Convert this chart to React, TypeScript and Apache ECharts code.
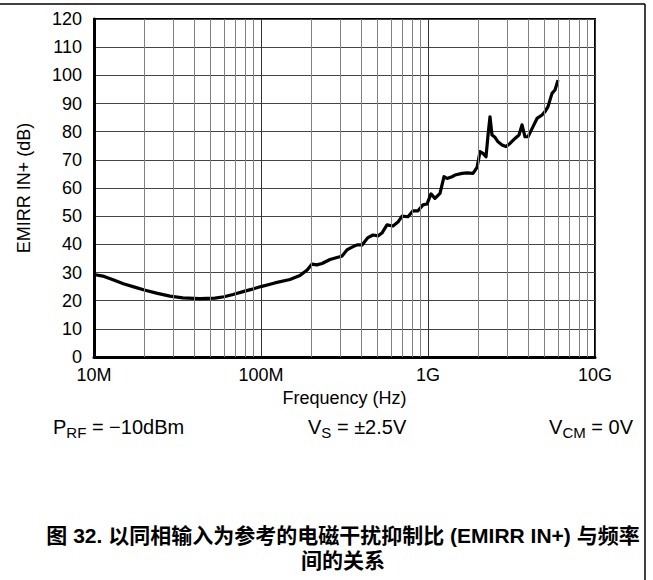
import React, { useEffect, useRef } from "react";
import * as echarts from "echarts";

const freqMHz = [10, 11.5, 13, 15, 17.5, 20, 24, 28.5, 34, 43, 53, 60, 68, 80, 90, 100, 121, 149, 171, 189, 202, 216, 232, 259, 285, 305, 327, 351, 376, 403, 437, 468, 502, 530, 568, 617, 661, 699, 759, 813, 871, 933, 986, 1042, 1101, 1180, 1247, 1300, 1392, 1451, 1598, 1712, 1860, 1966, 2049, 2135, 2225, 2288, 2351, 2416, 2519, 2626, 2775, 2932, 3097, 3319, 3506, 3655, 3809, 3970, 4255, 4496, 4816, 5019, 5231, 5527, 5761, 6003];
const emirrDb = [29.3, 28.6, 27.4, 26.0, 24.8, 23.8, 22.6, 21.6, 21.0, 20.7, 20.9, 21.4, 22.2, 23.4, 24.2, 25.0, 26.3, 27.5, 28.9, 30.9, 33.0, 32.7, 33.2, 34.6, 35.3, 35.8, 38.0, 39.0, 39.8, 39.8, 42.4, 43.3, 43.0, 44.0, 46.9, 46.5, 47.9, 50.0, 49.8, 51.9, 51.9, 54.0, 54.3, 57.9, 56.3, 58.1, 64.0, 63.4, 64.0, 64.6, 65.2, 65.4, 65.2, 67.3, 72.9, 72.3, 71.1, 78.8, 85.3, 78.8, 78.0, 76.4, 75.3, 74.7, 75.8, 77.6, 78.8, 82.4, 78.2, 78.2, 81.8, 84.7, 85.9, 87.1, 88.9, 93.6, 94.8, 98.3];

const decades = [1e7, 1e8, 1e9];
const minorMultipliers = [2, 3, 4, 5, 6, 7, 8, 9];
const xTickLabels: Record<string, string> = { "10000000": "10M", "100000000": "100M", "1000000000": "1G", "10000000000": "10G" };

const yAxisName = "EMIRR IN+ (dB)";
const xAxisName = "Frequency (Hz)";
const titleLine1 = "图 32. 以同相输入为参考的电磁干扰抑制比 (EMIRR IN+) 与频率";
const titleLine2 = "间的关系";

const FONT = "'Liberation Sans', Arial, sans-serif";

export default function App() {
  const ref = useRef<HTMLDivElement>(null);
  useEffect(() => {
    if (!ref.current) return;
    const chart = echarts.init(ref.current, undefined, { renderer: "svg" });
    const data = freqMHz.map((f, i) => [f * 1e6, emirrDb[i]]);
    const minor: number[] = [];
    decades.forEach((d) => minorMultipliers.forEach((m) => minor.push(d * m)));

    const rich = {
      a: { fontSize: 20, fontFamily: FONT, color: "#000", lineHeight: 24 },
      s: { fontSize: 15, fontFamily: FONT, color: "#000", lineHeight: 14, padding: [11, 0, 0, 0] },
    };

    chart.setOption({
      animation: false,
      backgroundColor: "#fff",
      grid: { left: 94, top: 19, right: 58, bottom: 223, show: true, borderColor: "#000", borderWidth: 2, containLabel: false },
      xAxis: {
        type: "log",
        logBase: 10,
        min: 1e7,
        max: 1e10,
        name: xAxisName,
        nameLocation: "middle",
        nameGap: 32,
        nameTextStyle: { fontSize: 18, fontFamily: FONT, color: "#000" },
        axisLine: { show: true, lineStyle: { color: "#000", width: 3 } },
        axisTick: { show: false },
        axisLabel: {
          fontSize: 18,
          fontFamily: FONT,
          color: "#000",
          margin: 9,
          formatter: (v: number) => xTickLabels[String(Math.round(v))] ?? "",
        },
        splitLine: { show: true, lineStyle: { color: "#333", width: 1 } },
      },
      yAxis: {
        type: "value",
        min: 0,
        max: 120,
        interval: 10,
        name: yAxisName,
        nameLocation: "middle",
        nameGap: 61,
        nameRotate: 90,
        nameTextStyle: { fontSize: 18, fontFamily: FONT, color: "#000" },
        axisLine: { show: true, lineStyle: { color: "#000", width: 3 } },
        axisTick: { show: false },
        axisLabel: { fontSize: 18, fontFamily: FONT, color: "#000", margin: 12 },
        splitLine: { show: true, lineStyle: { color: "#444", width: 1 } },
      },
      series: [
        {
          type: "line",
          z: 1,
          data: [[1e7, 0]],
          symbol: "none",
          silent: true,
          lineStyle: { width: 0, opacity: 0 },
          markLine: {
            silent: true,
            symbol: "none",
            label: { show: false },
            lineStyle: { color: "#808080", width: 1, type: "solid" },
            data: minor.map((v) => ({ xAxis: v })),
          },
        },
        {
          type: "line",
          z: 3,
          data,
          symbol: "none",
          showSymbol: false,
          lineStyle: { color: "#000", width: 3.2, join: "round" },
        },
      ],
      graphic: [
        { type: "line", shape: { x1: 0, y1: 4, x2: 645, y2: 4 }, style: { stroke: "#000", lineWidth: 1.5 } },
        { type: "line", shape: { x1: 645, y1: 4, x2: 645, y2: 580 }, style: { stroke: "#000", lineWidth: 1.5 } },
        {
          type: "text",
          left: 53,
          top: 414,
          style: { text: "{a|P}{s|RF}{a| = −10dBm}", rich },
        },
        {
          type: "text",
          left: 308,
          top: 414,
          style: { text: "{a|V}{s|S}{a| = ±2.5V}", rich },
        },
        {
          type: "text",
          right: 20,
          top: 414,
          style: { text: "{a|V}{s|CM}{a| = 0V}", rich },
        },
        {
          type: "text",
          x: 343,
          y: 535,
          style: {
            text: titleLine1,
            fontSize: 21,
            fontWeight: "bold",
            fontFamily: "'Liberation Sans', 'Noto Sans CJK SC', sans-serif",
            fill: "#000",
            align: "center",
            verticalAlign: "middle",
          },
        },
        {
          type: "text",
          x: 343,
          y: 559,
          style: {
            text: titleLine2,
            fontSize: 21,
            fontWeight: "bold",
            fontFamily: "'Noto Sans CJK SC', sans-serif",
            fill: "#000",
            align: "center",
            verticalAlign: "middle",
          },
        },
      ],
    });
    return () => chart.dispose();
  }, []);
  return <div ref={ref} style={{ position: "absolute", left: 0, top: 0, width: 653, height: 580 }} />;
}
